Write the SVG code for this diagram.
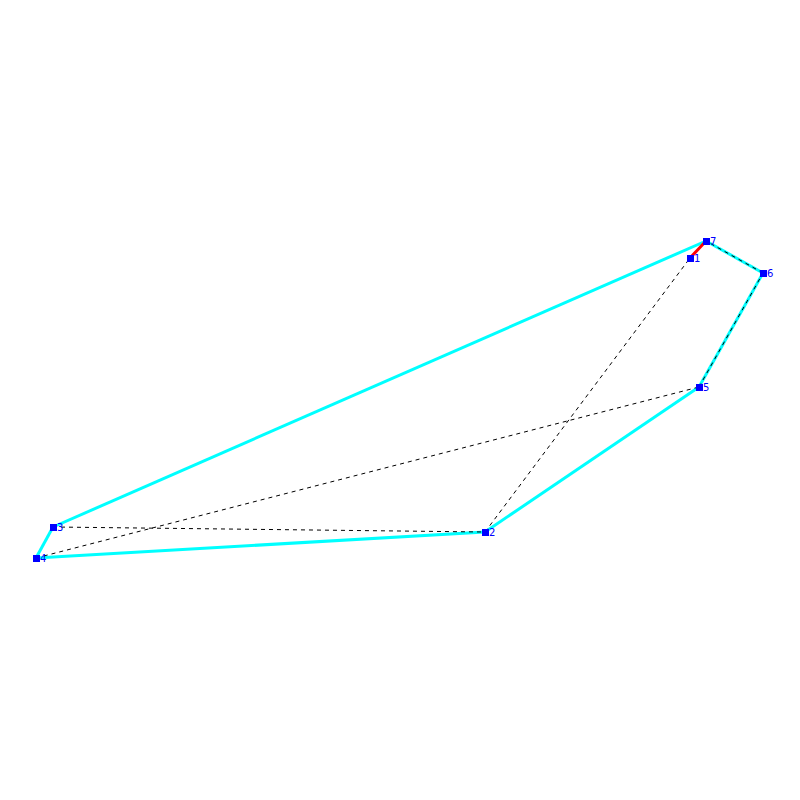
<svg xmlns="http://www.w3.org/2000/svg" width="800" height="800" viewBox="0 0 800 800">
<style>
.e{stroke:#00ffff;stroke-width:3;fill:none}
.d{stroke:#000;stroke-width:1;stroke-dasharray:4,4;fill:none}
.n{fill:#0000ff}
.t{font-family:"DejaVu Sans",sans-serif;font-size:10px;fill:#0000ff}
</style>
<rect width="800" height="800" fill="#fff"/>
<g id="connectors">
<line class="e" x1="706" y1="241" x2="53" y2="527"/>
<line class="e" x1="53" y1="527" x2="36" y2="558"/>
<line class="e" x1="36" y1="558" x2="485" y2="532"/>
<line class="e" x1="485" y1="532" x2="699" y2="387"/>
<line class="e" x1="699" y1="387" x2="763" y2="273"/>
<line class="e" x1="763" y1="273" x2="706" y2="241"/>
<line class="d" x1="53" y1="527" x2="485" y2="532"/>
<line class="d" x1="36" y1="558" x2="699" y2="387"/>
<line class="d" x1="485" y1="532" x2="690" y2="258"/>
<line class="d" x1="763" y1="273" x2="706" y2="241"/>
<line class="d" x1="699" y1="387" x2="763" y2="273"/>
<line x1="690" y1="258" x2="706" y2="241" stroke="#ff0000" stroke-width="3"/>
</g>
<g id="n1"><rect class="n" x="687" y="255" width="7" height="7"/><text class="t" x="694" y="262">1</text></g>
<g id="n2"><rect class="n" x="482" y="529" width="7" height="7"/><text class="t" x="489" y="536">2</text></g>
<g id="n3"><rect class="n" x="50" y="524" width="7" height="7"/><text class="t" x="57" y="531">3</text></g>
<g id="n4"><rect class="n" x="33" y="555" width="7" height="7"/><text class="t" x="40" y="562">4</text></g>
<g id="n5"><rect class="n" x="696" y="384" width="7" height="7"/><text class="t" x="703" y="391">5</text></g>
<g id="n6"><rect class="n" x="760" y="270" width="7" height="7"/><text class="t" x="767" y="277">6</text></g>
<g id="n7"><rect class="n" x="703" y="238" width="7" height="7"/><text class="t" x="710" y="245">7</text></g>
</svg>
